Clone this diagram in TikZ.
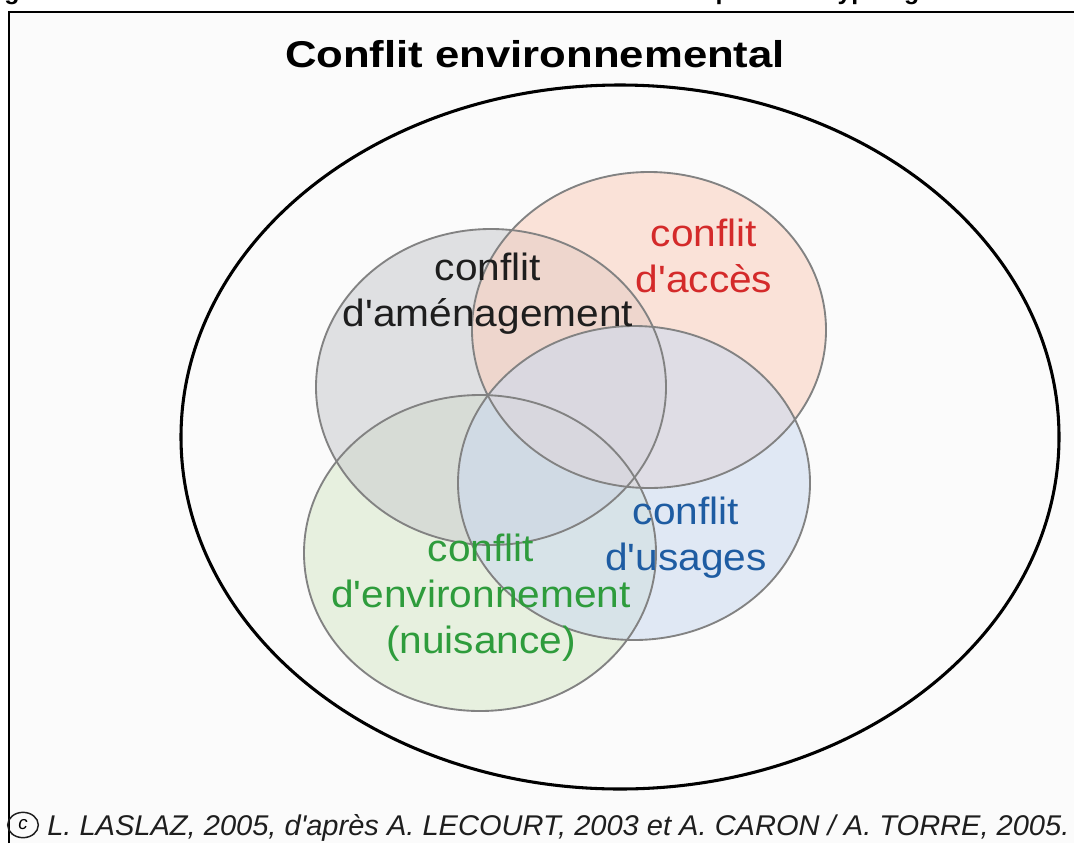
\documentclass[tikz,border=0pt]{standalone}
\usepackage{fontspec}
\setmainfont{Liberation Sans}
\usetikzlibrary{shapes.geometric}
\newcommand{\ap}{\textquotesingle}
\begin{document}
\begin{tikzpicture}[x=0.75pt,y=-0.75pt,
  frameline/.style={line width=2.2pt,black},
  outer/.style={line width=2.3pt,black},
  setfill/.style={fill=#1,fill opacity=0.57},
  setline/.style={draw=rimgray,line width=1.4pt},
  lab/.style={align=center,inner sep=0pt,xscale=1.07,anchor=base,
    font=\fontsize{28.5}{34.5}\selectfont},
]
\definecolor{panel}{HTML}{FBFBFB}
\definecolor{rimgray}{HTML}{828282}
\definecolor{amgray}{HTML}{CBCDD0}
\definecolor{acpink}{HTML}{FAD0BE}
\definecolor{usblue}{HTML}{CCDAEF}
\definecolor{envgreen}{HTML}{D9E9CA}
\definecolor{txtred}{HTML}{D42A2A}
\definecolor{txtblue}{HTML}{1E5CA2}
\definecolor{txtgreen}{HTML}{2E9C3C}
\definecolor{txtblack}{HTML}{1E1E1E}

\useasboundingbox (0,0) rectangle (1074,843);
\fill[white] (0,0) rectangle (1074,843);
\fill[panel] (9,12) rectangle (1074,843);

% caption line above the frame, cut by the page edge
\begin{scope}
  \clip (0,0) rectangle (1074,8);
  \node[anchor=south west,inner sep=0pt,font=\bfseries\fontsize{18.7}{22}\selectfont]
    (caption) at (-18,5.5) {Figure 1 : Le conflit environnemental : éléments de définition pour une typologie};
\end{scope}

% frame
\draw[frameline] (9,843) -- (9,12) -- (1074,12);

% title
\node[inner sep=0pt,anchor=base,xscale=1.17,font=\bfseries\fontsize{28}{32}\selectfont]
  (title) at (535,67) {Conflit environnemental};

% enclosing ellipse
\draw[outer] (620,437) ellipse [x radius=439, y radius=352];

% the four overlapping sets
\coordinate (cEnv) at (480,553);
\coordinate (cAm)  at (491,387);
\coordinate (cAc)  at (649,330);
\coordinate (cUs)  at (634,483);
\fill[setfill=envgreen] (cEnv) ellipse [x radius=176, y radius=158];
\fill[setfill=amgray]   (cAm)  ellipse [x radius=175, y radius=158];
\fill[setfill=acpink]   (cAc)  ellipse [x radius=177, y radius=158];
\fill[setfill=usblue]   (cUs)  ellipse [x radius=176, y radius=157];
\draw[setline] (cEnv) ellipse [x radius=176, y radius=158];
\draw[setline] (cAm)  ellipse [x radius=175, y radius=158];
\draw[setline] (cAc)  ellipse [x radius=177, y radius=158];
\draw[setline] (cUs)  ellipse [x radius=176, y radius=157];

% labels (anchored on the baseline of their last line)
\node[lab,text=txtblack] (amenagement)   at (488,326) {conflit\\d\ap aménagement};
\node[lab,text=txtred]   (acces)         at (704,292) {conflit\\d\ap accès};
\node[lab,text=txtblue]  (usages)        at (686,570) {conflit\\d\ap usages};
\node[lab,text=txtgreen] (environnement) at (481,653) {conflit\\d\ap environnement\\(nuisance)};

% credit line
\node[draw=txtblack,line width=1.1pt,ellipse,inner sep=0pt,
  minimum width=23pt,minimum height=19pt,font=\itshape\fontsize{14}{14}\selectfont]
  (copyr) at (23,825) {c};
\node[anchor=base west,inner sep=0pt,xscale=1.018,text=txtblack,font=\itshape\fontsize{21.4}{24}\selectfont]
  (credit) at (47,835) {L. LASLAZ, 2005, d\ap après A. LECOURT, 2003 et A. CARON / A. TORRE, 2005.};
\end{tikzpicture}
\end{document}
